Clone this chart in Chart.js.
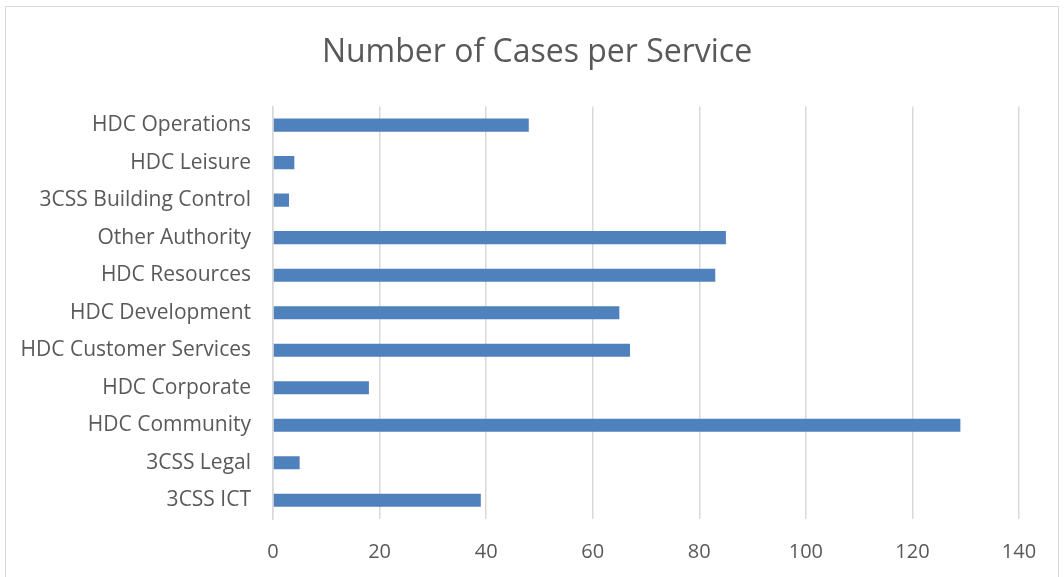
<!DOCTYPE html>
<html>
<head>
<meta charset="utf-8">
<script src="https://cdn.jsdelivr.net/npm/chart.js@4/dist/chart.umd.min.js"></script>
<style>
  html, body { margin: 0; padding: 0; background: #ffffff; }
  #wrap { position: relative; width: 1064px; height: 577px; overflow: hidden; }
  #frame { position: absolute; left: 5px; top: 6px; width: 1054px; height: 600px; border: 1px solid #d9d9d9; box-sizing: border-box; pointer-events: none; }
  canvas { position: absolute; left: 0; top: 0; }
</style>
</head>
<body>
<div id="wrap">
  <canvas id="c" width="1064" height="577"></canvas>
  <div id="frame"></div>
</div>
<script>
const categories = [
  "HDC Operations",
  "HDC Leisure",
  "3CSS Building Control",
  "Other Authority",
  "HDC Resources",
  "HDC Development",
  "HDC Customer Services",
  "HDC Corporate",
  "HDC Community",
  "3CSS Legal",
  "3CSS ICT"
];
const cases = [48, 4, 3, 85, 83, 65, 67, 18, 129, 5, 39];
const xTicks = [0, 20, 40, 60, 80, 100, 120, 140];

const FONT = "'Open Sans', 'Noto Sans', sans-serif";

new Chart(document.getElementById('c'), {
  type: 'bar',
  data: {
    labels: categories,
    datasets: [{
      label: 'Number of Cases',
      data: cases,
      backgroundColor: '#4f81bd',
      borderColor: '#4f81bd',
      borderWidth: 0,
      categoryPercentage: 1.0,
      barPercentage: 0.35
    }]
  },
  options: {
    indexAxis: 'y',
    responsive: false,
    animation: false,
    devicePixelRatio: 1,
    layout: { padding: { left: 10, right: 0, top: 0, bottom: 0 } },
    plugins: {
      legend: { display: false },
      tooltip: { enabled: false },
      title: {
        display: true,
        text: 'Number of Cases per Service',
        color: '#595959',
        font: { family: FONT, size: 32, weight: 'normal' },
        padding: { top: 34, bottom: 34 }
      }
    },
    scales: {
      x: {
        type: 'linear',
        min: xTicks[0],
        max: xTicks[xTicks.length - 1],
        afterBuildTicks: (s) => { s.ticks = xTicks.map(v => ({ value: v })); },
        afterFit: (s) => { s.height = 58; },
        grid: { color: '#d9d9d9', lineWidth: 1.5, drawTicks: false },
        border: { display: false },
        ticks: {
          color: '#595959',
          font: { family: FONT, size: 20 },
          padding: 21
        }
      },
      y: {
        afterFit: (s) => { s.width = 263; },
        grid: { display: false, drawTicks: false },
        border: { display: true, color: '#d9d9d9', width: 1.5 },
        ticks: {
          color: '#595959',
          font: { family: FONT, size: 21 },
          padding: 22
        }
      },
      yRight: {
        type: 'category',
        position: 'right',
        afterFit: (s) => { s.width = 45; },
        grid: { display: false, drawTicks: false },
        border: { display: false },
        ticks: { display: false }
      }
    }
  }
});
</script>
</body>
</html>
